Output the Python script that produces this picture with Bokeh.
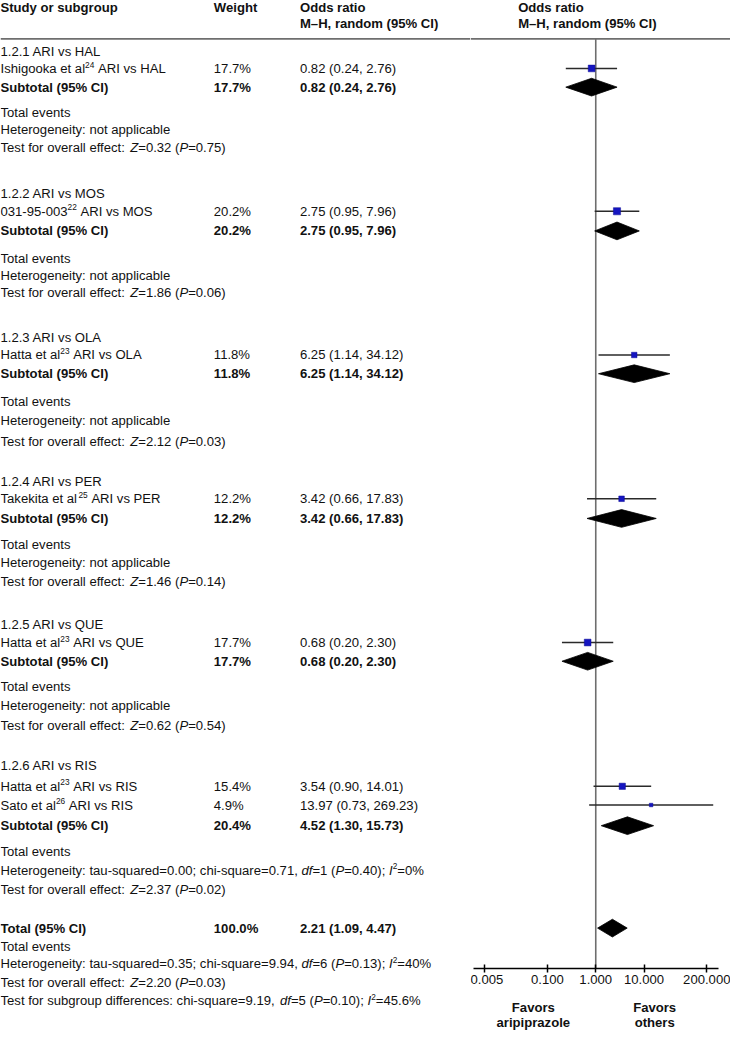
import numpy as np
from bokeh.plotting import figure
from bokeh.models import (ColumnDataSource, Range1d, Span, Label, LogAxis,
                          FixedTicker, CustomJSTickFormatter)
from bokeh.layouts import row
from bokeh.core.properties import value
from bokeh.embed import file_html
from bokeh.resources import INLINE

# ---------------- data ----------------
subgroup_labels = ["1.2.1 ARI vs HAL", "1.2.2 ARI vs MOS", "1.2.3 ARI vs OLA",
                   "1.2.4 ARI vs PER", "1.2.5 ARI vs QUE", "1.2.6 ARI vs RIS"]
study_group = [0, 1, 2, 3, 4, 5, 5]
study_author = ["Ishigooka et al", "031-95-003", "Hatta et al", "Takekita et al",
                "Hatta et al", "Hatta et al", "Sato et al"]
study_ref = ["24", "22", "23", "25", "23", "23", "26"]
study_comp = ["ARI vs HAL", "ARI vs MOS", "ARI vs OLA", "ARI vs PER",
              "ARI vs QUE", "ARI vs RIS", "ARI vs RIS"]
study_weight = [17.7, 20.2, 11.8, 12.2, 17.7, 15.4, 4.9]
study_or = [0.82, 2.75, 6.25, 3.42, 0.68, 3.54, 13.97]
study_lo = [0.24, 0.95, 1.14, 0.66, 0.20, 0.90, 0.73]
study_hi = [2.76, 7.96, 34.12, 17.83, 2.30, 14.01, 269.23]

sub_weight = [17.7, 20.2, 11.8, 12.2, 17.7, 20.4]
sub_or = [0.82, 2.75, 6.25, 3.42, 0.68, 4.52]
sub_lo = [0.24, 0.95, 1.14, 0.66, 0.20, 1.30]
sub_hi = [2.76, 7.96, 34.12, 17.83, 2.30, 15.73]
sub_z = ["0.32", "1.86", "2.12", "1.46", "0.62", "2.37"]
sub_p = ["0.75", "0.06", "0.03", "0.14", "0.54", "0.02"]
# tau-squared, chi-square, df, P, I2  (None = not applicable)
sub_het = [None, None, None, None, None, ("0.00", "0.71", "1", "0.40", "0%")]

total_weight = 100.0
total_or, total_lo, total_hi = 2.21, 1.09, 4.47
total_z, total_p = "2.20", "0.03"
total_het = ("0.35", "9.94", "6", "0.13", "40%")
subdiff = ("9.19", "5", "0.10", "45.6%")   # chi-square, df, P, I2

axis_ticks = [0.005, 0.1, 1, 10, 200]

# ---------------- layout (reference pixel units) ----------------
W, H = 730, 1031
REF_W, REF_H = 746, 1047
SX, SY = W / REF_W, H / REF_H
SPLIT = 480.0
LEFT_PX = int(round(SPLIT * SX))
RIGHT_PX = W - LEFT_PX
SPLIT = LEFT_PX / SX
X_ONE, DEC = 608.3, 49.4          # ref x of OR=1, px per decade

Y_HEAD = [51.5, 196.5, 342.5, 488, 634, 777]
Y_STUDY = [69, 214, 360, 506, 652, 798, 817]
Y_SUB = [88, 234, 379, 526, 671, 838]
Y_TE = [114, 262, 407, 552, 697, 864]
Y_HET = [131, 279, 427, 571, 716, 883]
Y_TEST = [149, 297, 448, 590, 736, 903]
Y_TOTAL, Y_TOT_TE, Y_TOT_HET, Y_TOT_TEST, Y_SUBDIFF = 942, 961, 978, 997, 1016
Y_AXIS, Y_RULE = 983, 39
X_W, X_OR = 218, 306

FONT = "Liberation Sans"
FS = 13.4
SUP_FS = 8.5
SUP_DY = 4.0
FS_PX = f"{FS * SX:.2f}px"
SUP_PX = f"{SUP_FS * SX:.2f}px"

REG = {' ': 278, '!': 278, '%': 889, '(': 333, ')': 333, ',': 278, '-': 333, '.': 278,
       '/': 278, ':': 278, ';': 278, '=': 584, '–': 556,
       'A': 667, 'B': 667, 'C': 722, 'D': 722, 'E': 667, 'F': 611, 'G': 778, 'H': 722,
       'I': 278, 'J': 500, 'K': 667, 'L': 556, 'M': 833, 'N': 722, 'O': 778, 'P': 667,
       'Q': 778, 'R': 722, 'S': 667, 'T': 611, 'U': 722, 'V': 667, 'W': 944, 'X': 667,
       'Y': 667, 'Z': 611,
       'a': 556, 'b': 556, 'c': 500, 'd': 556, 'e': 556, 'f': 278, 'g': 556, 'h': 556,
       'i': 222, 'j': 222, 'k': 500, 'l': 222, 'm': 833, 'n': 556, 'o': 556, 'p': 556,
       'q': 556, 'r': 333, 's': 500, 't': 278, 'u': 556, 'v': 500, 'w': 722, 'x': 500,
       'y': 500, 'z': 500}
for d in "0123456789":
    REG[d] = 556


def tw(s, size):
    return sum(REG.get(c, 556) for c in s) / 1000.0 * size


texts = {k: dict(x=[], y=[], text=[]) for k in ("normal", "italic", "bold", "sup")}


def put(style, x, y, t):
    texts[style]["x"].append(x)
    texts[style]["y"].append(y)
    texts[style]["text"].append(t)


def line(x0, y, segs):
    x = x0
    for t, st in segs:
        size = SUP_FS if st == "sup" else FS
        stripped = t.lstrip(" ")
        x += tw(t[:len(t) - len(stripped)], size)   # leading spaces collapse in SVG
        if st == "sup":
            put("sup", x, y - SUP_DY, stripped)
        else:
            put(st, x, y, stripped)
        x += tw(stripped, size)


def or_txt(o, l, h):
    return f"{o:.2f} ({l:.2f}, {h:.2f})"


# header
put("bold", 0, 7.5, "Study or subgroup")
put("bold", X_W, 7.5, "Weight")
put("bold", X_OR, 7.5, "Odds ratio")
put("bold", X_OR, 23, "M–H, random (95% CI)")

for g in range(len(subgroup_labels)):
    put("normal", 0, Y_HEAD[g], subgroup_labels[g])
    for i, sg in enumerate(study_group):
        if sg != g:
            continue
        y = Y_STUDY[i]
        line(0, y, [(study_author[i], "normal"), (study_ref[i], "sup"),
                    (" " + study_comp[i], "normal")])
        put("normal", X_W, y, f"{study_weight[i]:.1f}%")
        put("normal", X_OR, y, or_txt(study_or[i], study_lo[i], study_hi[i]))
    put("bold", 0, Y_SUB[g], "Subtotal (95% CI)")
    put("bold", X_W, Y_SUB[g], f"{sub_weight[g]:.1f}%")
    put("bold", X_OR, Y_SUB[g], or_txt(sub_or[g], sub_lo[g], sub_hi[g]))
    put("normal", 0, Y_TE[g], "Total events")
    h = sub_het[g]
    if h is None:
        put("normal", 0, Y_HET[g], "Heterogeneity: not applicable")
    else:
        line(0, Y_HET[g], [(f"Heterogeneity: tau-squared={h[0]}; chi-square={h[1]}, ", "normal"),
                           ("df", "italic"), (f"={h[2]} (", "normal"), ("P", "italic"),
                           (f"={h[3]}); ", "normal"), ("I", "italic"), ("2", "sup"),
                           (f"={h[4]}", "normal")])
    line(0, Y_TEST[g], [("Test for overall effect: ", "normal"), ("Z", "italic"),
                        (f"={sub_z[g]} (", "normal"), ("P", "italic"),
                        (f"={sub_p[g]})", "normal")])

put("bold", 0, Y_TOTAL, "Total (95% CI)")
put("bold", X_W, Y_TOTAL, f"{total_weight:.1f}%")
put("bold", X_OR, Y_TOTAL, or_txt(total_or, total_lo, total_hi))
put("normal", 0, Y_TOT_TE, "Total events")
h = total_het
line(0, Y_TOT_HET, [(f"Heterogeneity: tau-squared={h[0]}; chi-square={h[1]}, ", "normal"),
                    ("df", "italic"), (f"={h[2]} (", "normal"), ("P", "italic"),
                    (f"={h[3]}); ", "normal"), ("I", "italic"), ("2", "sup"),
                    (f"={h[4]}", "normal")])
line(0, Y_TOT_TEST, [("Test for overall effect: ", "normal"), ("Z", "italic"),
                     (f"={total_z} (", "normal"), ("P", "italic"), (f"={total_p})", "normal")])
line(0, Y_SUBDIFF, [(f"Test for subgroup differences: chi-square={subdiff[0]}, ", "normal"),
                    ("df", "italic"), (f"={subdiff[1]} (", "normal"), ("P", "italic"),
                    (f"={subdiff[2]}); ", "normal"), ("I", "italic"), ("2", "sup"),
                    (f"={subdiff[3]}", "normal")])

# ---------------- left (text) figure ----------------
common = dict(toolbar_location=None, output_backend="svg", min_border=0,
              outline_line_color=None, x_axis_location=None, y_axis_location=None,
              y_range=Range1d(REF_H, 0), background_fill_color="white",
              border_fill_color="white")
p1 = figure(width=LEFT_PX, height=H, x_range=Range1d(0, SPLIT), **common)
p1.grid.visible = False
styles = {"normal": ("normal", FS_PX), "italic": ("italic", FS_PX),
          "bold": ("bold", FS_PX), "sup": ("normal", SUP_PX)}
for k, (fst, fsz) in styles.items():
    if not texts[k]["x"]:
        continue
    p1.text(x="x", y="y", text="text", source=ColumnDataSource(texts[k]),
            text_font=value(FONT), text_font_size=fsz, text_font_style=fst,
            text_baseline="middle", text_align="left", text_color="#111111")
p1.add_layout(Span(location=Y_RULE, dimension="width", line_color="#6e6e6e", line_width=1.6))

# ---------------- right (forest) figure ----------------
xr0 = 10 ** ((SPLIT - X_ONE) / DEC)
xr1 = 10 ** ((REF_W - X_ONE) / DEC)
p2 = figure(width=RIGHT_PX, height=H, x_axis_type="log", x_range=Range1d(xr0, xr1), **common)
p2.grid.visible = False
p2.add_layout(Span(location=Y_RULE, dimension="width", line_color="#6e6e6e", line_width=1.6))
p2.segment(x0=[1], y0=[Y_RULE], x1=[1], y1=[Y_AXIS], line_color="#6e6e6e", line_width=1.6)

# study CIs + squares
p2.segment(x0=study_lo, y0=Y_STUDY, x1=study_hi, y1=Y_STUDY, line_color="#2a2a2a", line_width=1.5)
p2.scatter(x=study_or, y=Y_STUDY, marker="square",
           size=[1.6 * np.sqrt(w) for w in study_weight],
           fill_color="#1515c0", line_color="#0c0c95", line_width=0.5)

# diamonds
DH = 9
d_or = sub_or + [total_or]
d_lo = sub_lo + [total_lo]
d_hi = sub_hi + [total_hi]
d_y = Y_SUB + [Y_TOTAL]
p2.patches(xs=[[l, o, h_, o] for l, o, h_ in zip(d_lo, d_or, d_hi)],
           ys=[[y, y - DH, y, y + DH] for y in d_y],
           fill_color="black", line_color="black", line_width=0.8)

# axis
b0 = 10 ** ((483 - X_ONE) / DEC)
b1 = 10 ** ((734 - X_ONE) / DEC)
ax = LogAxis(ticker=FixedTicker(ticks=axis_ticks, minor_ticks=[]),
             formatter=CustomJSTickFormatter(code="return tick.toFixed(3);"),
             fixed_location=Y_AXIS, bounds=(b0, b1),
             major_tick_in=4, major_tick_out=4, minor_tick_in=0, minor_tick_out=0,
             axis_line_color="black", axis_line_width=1.5,
             major_tick_line_color="black", major_tick_line_width=1.5,
             major_label_standoff=3, major_label_text_font=FONT,
             major_label_text_font_size=FS_PX, major_label_text_color="#111111")
p2.add_layout(ax, "below")


def rlabel(xref, y, t, bold=False, align="left"):
    p2.add_layout(Label(x=(xref - SPLIT) * SX, y=y, x_units="screen", y_units="data", text=t,
                        text_font=FONT, text_font_size=FS_PX,
                        text_font_style="bold" if bold else "normal",
                        text_baseline="middle", text_align=align, text_color="#111111"))


rlabel(529, 7.5, "Odds ratio", bold=True)
rlabel(529, 23, "M–H, random (95% CI)", bold=True)
rlabel(544.5, 1023, "Favors", bold=True, align="center")
rlabel(544.5, 1038, "aripiprazole", bold=True, align="center")
rlabel(668.5, 1023, "Favors", bold=True, align="center")
rlabel(668.5, 1038, "others", bold=True, align="center")

layout = row(p1, p2, spacing=0)
open("out.html", "w").write(file_html(layout, INLINE))
